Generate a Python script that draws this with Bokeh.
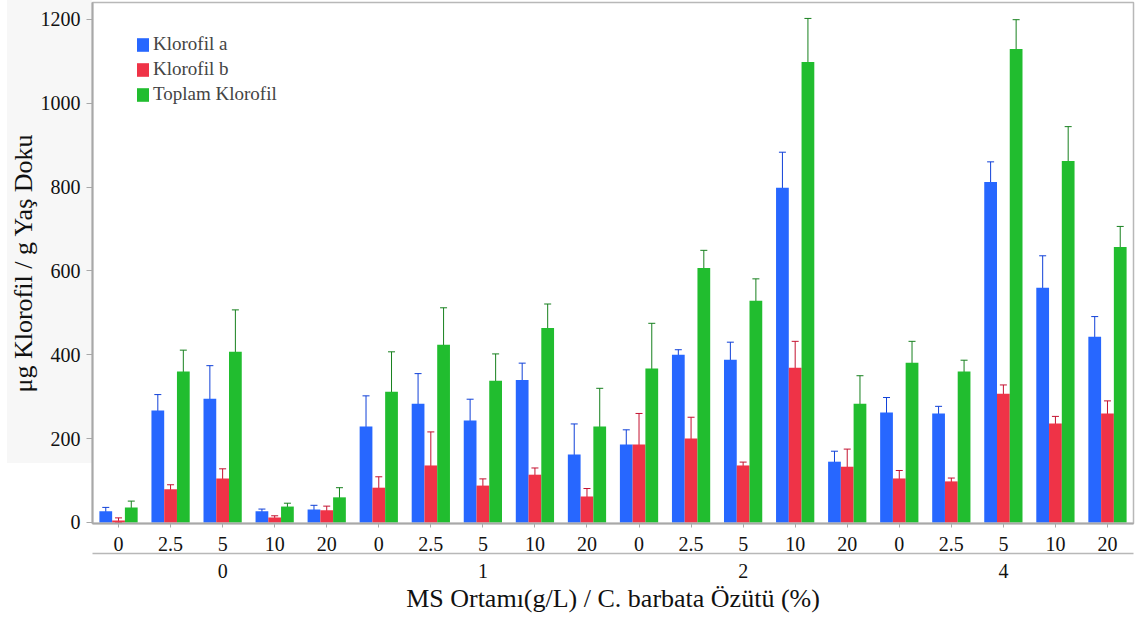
from bokeh.plotting import figure
from bokeh.models import (ColumnDataSource, FactorRange, Range1d, Whisker, TeeHead,
                          Legend, LegendItem, CategoricalAxis)
from bokeh.transform import dodge
from bokeh.embed import file_html
from bokeh.resources import INLINE

# ---- data ----
groups = ["0", "1", "2", "4"]              # MS Ortamı (g/L)
extracts = ["0", "2.5", "5", "10", "20"]   # C. barbata Özütü (%)

klorofil_a = [27, 267, 295, 27, 31,
              229, 283, 243, 340, 162,
              186, 400, 388, 798, 145,
              262, 260, 812, 560, 443]
klorofil_a_err = [9, 38, 79, 5, 10,
                  73, 72, 51, 40, 73,
                  35, 12, 42, 85, 25,
                  36, 17, 48, 76, 48]
klorofil_b = [5, 79, 105, 12, 29,
              83, 136, 88, 114, 62,
              186, 200, 136, 369, 133,
              105, 98, 307, 236, 260]
klorofil_b_err = [6, 11, 23, 4, 10,
                  26, 80, 16, 16, 19,
                  74, 51, 8, 63, 42,
                  19, 8, 21, 17, 30]
toplam = [36, 360, 407, 38, 60,
          312, 424, 338, 464, 229,
          367, 607, 529, 1098, 283,
          381, 360, 1129, 862, 657]
toplam_err = [15, 51, 100, 8, 23,
              95, 88, 64, 57, 91,
              108, 42, 52, 104, 67,
              51, 27, 70, 82, 49]

series_names = ["Klorofil a", "Klorofil b", "Toplam Klorofil"]
y_ticks = [0, 200, 400, 600, 800, 1000, 1200]

# ---- styling ----
FONT = "Liberation Serif"
bar_colors = ["#2767FF", "#EF3347", "#21BD2F"]
err_colors = ["#1040D8", "#C41230", "#17801E"]
offsets = [-0.245, 0.0, 0.245]
bar_w = 0.245
W, H = 1140, 615

factors = [(g, e) for g in groups for e in extracts]

data = dict(x=factors)
for key, vals, errs in [("a", klorofil_a, klorofil_a_err),
                        ("b", klorofil_b, klorofil_b_err),
                        ("t", toplam, toplam_err)]:
    data[key] = vals
    data[key + "_lo"] = [v - e for v, e in zip(vals, errs)]
    data[key + "_hi"] = [v + e for v, e in zip(vals, errs)]
src = ColumnDataSource(data)

p = figure(x_range=FactorRange(*factors, group_padding=0, range_padding=0),
           y_range=Range1d(-2.4, 1240),
           width=W, height=H,
           output_backend="svg", toolbar_location=None,
           min_border_left=92, min_border_right=7,
           min_border_top=2, min_border_bottom=91)

# transparent border so a CSS background gives the light gray panel at the left
p.border_fill_alpha = 0
p.background_fill_color = "white"
p.styles = {"background": "linear-gradient(#F7F7F7, #F7F7F7) 7px 0px / 85px 463px no-repeat, #FFFFFF"}

renderers = []
for key, c, ec, off in zip(["a", "b", "t"], bar_colors, err_colors, offsets):
    xs = dodge("x", off, range=p.x_range)
    r = p.vbar(x=xs, top=key, width=bar_w, source=src, fill_color=c, line_color=None)
    renderers.append(r)
    p.add_layout(Whisker(base=xs, lower=key + "_lo", upper=key + "_hi", source=src,
                         line_color=ec, line_width=1,
                         upper_head=TeeHead(size=7, line_color=ec, line_width=1),
                         lower_head=TeeHead(size=7, line_color=ec, line_width=1)))

legend = Legend(items=[LegendItem(label=nm, renderers=[r]) for nm, r in zip(series_names, renderers)],
                location=(43, 418), padding=0, margin=0, spacing=3,
                glyph_width=15, glyph_height=17, label_height=22, label_standoff=3,
                label_text_font=FONT, label_text_font_size="19px",
                border_line_color=None, background_fill_alpha=0)
p.add_layout(legend)

# axes
p.xgrid.grid_line_color = None
p.ygrid.grid_line_color = None
p.outline_line_color = "#B8B8B8"
p.outline_line_width = 1.5

p.yaxis.ticker = y_ticks
p.yaxis.minor_tick_line_color = None
p.yaxis.axis_label = "μg Klorofil / g Yaş Doku"

# second bottom axis: its line acts as the group bracket, shows group labels + title
ax2 = CategoricalAxis()
p.add_layout(ax2, "below")
ax2.axis_label = "MS Ortamı(g/L) / C. barbata Özütü (%)"

for ax in p.axis:
    ax.axis_line_color = "#A8A8A8"
    ax.axis_line_width = 2
    ax.major_tick_line_color = "#A8A8A8"
    ax.major_tick_in = 0
    ax.major_label_text_font = FONT
    ax.major_label_text_font_size = "20px"
    ax.major_label_text_color = "#111111"
    ax.axis_label_text_font = FONT
    ax.axis_label_text_font_size = "26px"
    ax.axis_label_text_font_style = "normal"
    ax.axis_label_text_color = "#111111"

p.yaxis.major_tick_out = 6
p.yaxis.major_label_standoff = 6
p.yaxis.axis_label_standoff = 0

ax1 = p.below[0]
ax1.major_tick_out = 4
ax1.major_label_standoff = 9
ax1.group_text_color = None
ax1.separator_line_color = None

ax2.axis_line_color = "#B8B8B8"
ax2.axis_line_width = 1.5
ax2.major_tick_line_color = None
ax2.major_tick_out = 0
ax2.major_label_text_color = None
ax2.major_label_standoff = 10
ax2.group_text_font = FONT
ax2.group_text_font_size = "20px"
ax2.group_text_color = "#111111"
ax2.group_text_font_style = "normal"
ax2.separator_line_color = None
ax2.axis_label_standoff = 3

open("out.html", "w").write(file_html(p, INLINE))
